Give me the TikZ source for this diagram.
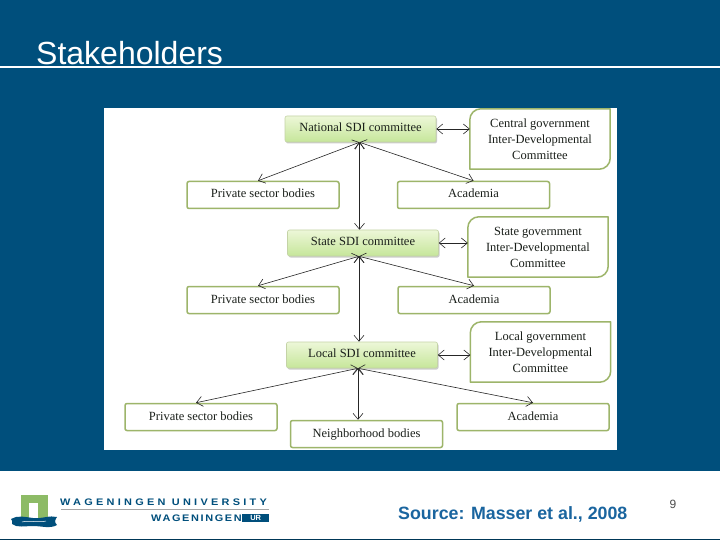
\documentclass[tikz,border=0pt]{standalone}
\usepackage{fontspec}
\setmainfont{Liberation Sans}
\newfontfamily\boxfont{Liberation Serif}
\newfontfamily\logofont[LetterSpace=30]{Liberation Sans}
\newfontfamily\logofontb[LetterSpace=15]{Liberation Sans}
\usetikzlibrary{arrows.meta,shadows}
\definecolor{slideblue}{HTML}{004F7C}
\definecolor{boxedge}{HTML}{9DB56A}
\definecolor{boxtext}{HTML}{1A1F1A}
\definecolor{logogreen}{HTML}{8DBB66}
\definecolor{sourceblue}{HTML}{1A659F}
\definecolor{fieldtop}{HTML}{EDF7D8}
\definecolor{fieldbottom}{HTML}{C6E69A}
\begin{document}
\begin{tikzpicture}[x=1pt,y=-1pt,>={Straight Barb[length=6pt,width=10pt]}]
\tikzstyle{committee}=[rectangle,rounded corners=2pt,draw=boxedge!60,line width=0.6pt,top color=fieldtop,bottom color=fieldbottom,drop shadow={shadow xshift=1pt,shadow yshift=-1.5pt,opacity=.4},minimum width=151pt,minimum height=26pt,inner sep=0pt,text=boxtext,text height=8pt,text depth=3.5pt,font=\boxfont\fontsize{12.5}{14}\selectfont]
\tikzstyle{body}=[rectangle,rounded corners=2pt,draw=boxedge,line width=1.5pt,fill=white,minimum width=152pt,minimum height=27pt,inner sep=0pt,text=boxtext,text height=8pt,text depth=2pt,font=\boxfont\fontsize{12.5}{14}\selectfont]
\tikzstyle{council}=[rectangle,minimum width=140pt,minimum height=60pt,inner sep=0pt,align=center,text=boxtext,font=\boxfont\fontsize{12.5}{16}\selectfont]
\tikzstyle{link}=[<->,line width=0.6pt,black!85]
\useasboundingbox (0,0) rectangle (720,540);
 \fill[slideblue] (0,0) rectangle (720,471);
 \fill[white] (0,471) rectangle (720,540);
 \fill[slideblue!70!black] (0,538.5) rectangle (720,540);
 \draw[white,line width=1.2pt] (0,67) -- (720,67);
 \node[anchor=base west,inner sep=0pt,text=white,font=\fontsize{32}{34}\selectfont] (title) at (36,65) {Stakeholders};
 \fill[white] (104,108) rectangle (617,450);
 % first level
 \node[committee] (national) at (360.5,129) {National SDI committee};
 \node[council] (centralgov) at (540,139) {Central government\\Inter-Developmental\\Committee};
 \node[body] (privateA) at (263,195) {Private sector bodies};
 \node[body] (academiaA) at (473.5,195) {Academia};
 % second level
 \node[committee] (state) at (363,243) {State SDI committee};
 \node[council] (stategov) at (538,247) {State government\\Inter-Developmental\\Committee};
 \node[body] (privateB) at (263,300) {Private sector bodies};
 \node[body] (academiaB) at (474,300) {Academia};
 % third level
 \node[committee] (local) at (362,355) {Local SDI committee};
 \node[council] (localgov) at (540.5,352) {Local government\\Inter-Developmental\\Committee};
 \node[body] (privateC) at (201,417) {Private sector bodies};
 \node[body] (neighborhood) at (366.5,434) {Neighborhood bodies};
 \node[body] (academiaC) at (533,417) {Academia};
 \foreach \g in {centralgov,stategov,localgov} {
  \draw[boxedge,line width=1.5pt,line join=round,rounded corners=11pt] (\g.north east) -- (\g.north west) [sharp corners] -- (\g.south west) [rounded corners=11pt] -- (\g.south east) [sharp corners] -- cycle;
 }
 \draw[link] ([xshift=-1pt]national.south) -- ([xshift=-5pt]privateA.north);
 \draw[link] ([xshift=-1pt]national.south) -- (academiaA.north);
 \draw[link] ([xshift=-1pt]national.south) -- ([xshift=-1pt]national.south |- state.north);
 \draw[link] (national) -- (national -| centralgov.west);
 \draw[link] ([xshift=-4pt]state.south) -- ([xshift=-5pt]privateB.north);
 \draw[link] ([xshift=-4pt]state.south) -- (academiaB.north);
 \draw[link] ([xshift=-4pt]state.south) -- ([xshift=-4pt]state.south |- local.north);
 \draw[link] (state) -- (state -| stategov.west);
 \draw[link] ([xshift=-4pt]local.south) -- ([xshift=-5pt]privateC.north);
 \draw[link] ([xshift=-4pt]local.south) -- (academiaC.north);
 \draw[link] ([xshift=-4pt]local.south) -- ([xshift=-4pt]local.south |- neighborhood.north);
 \draw[link] (local) -- (local -| localgov.west);
 % footer
 \node[anchor=base west,inner sep=0pt,text=sourceblue,font=\bfseries\fontsize{17.8}{20}\selectfont] (source) at (398,519) {Source: Masser et al., 2008};
 \node[anchor=base,inner sep=0pt,text=black!70,font=\fontsize{12}{14}\selectfont] (page) at (673,508) {9};
 % logo
 \fill[logogreen] (21,495) rectangle (48,519);
 \fill[white] (29,503) rectangle (38,518);
 \fill[slideblue] (11,519) .. controls (17,515) and (25,517) .. (33,518) .. controls (42,519) and (50,515) .. (57,517) .. controls (55,520) and (54,522) .. (57,525) .. controls (50,529) and (42,526) .. (33,526) .. controls (25,526) and (17,528) .. (12,524) .. controls (13,522) and (12,520) .. (11,519) -- cycle;
 \draw[white,line width=0.5pt] (22,522) .. controls (30,520) and (38,523) .. (46,521);
 \node[anchor=base west,inner sep=0pt,text=slideblue,font=\logofont\bfseries\fontsize{9.5}{10}\selectfont] (uni) at (60,505) {\scalebox{1.15}[1]{WAGENINGEN UNIVERSITY}};
 \draw[black!35,line width=0.5pt] (61,509.5) -- (269,509.5);
 \node[anchor=base east,inner sep=0pt,text=slideblue,font=\logofontb\bfseries\fontsize{9.5}{10}\selectfont] (wag) at (242,521.5) {\scalebox{1.15}[1]{WAGENINGEN}};
 \node[rectangle,fill=slideblue,anchor=west,minimum width=27pt,minimum height=8pt,inner sep=0pt,text=white,font=\bfseries\fontsize{7.5}{8}\selectfont] (ur) at (242,518) {UR};
\end{tikzpicture}
\end{document}
